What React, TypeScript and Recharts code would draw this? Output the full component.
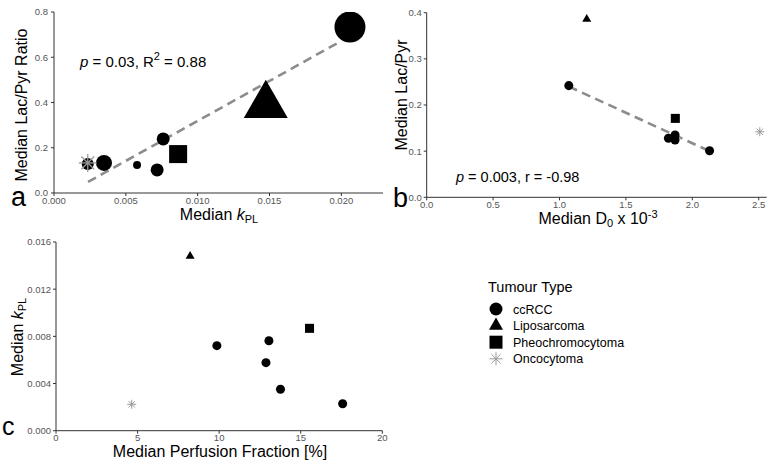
import React from 'react';
import { ScatterChart, Scatter, XAxis, YAxis, ZAxis, ReferenceLine } from 'recharts';

const FONT = '"Liberation Sans", Arial, Helvetica, sans-serif';

// panel a: median kPL vs median Lac/Pyr ratio (size is mapped to a third variable)
const aCcrccKpl = [0.0206, 0.0076, 0.00348, 0.00578, 0.00718, 0.00235];
const aCcrccRatio = [0.734, 0.239, 0.133, 0.124, 0.102, 0.128];
const aCcrccSize = [961, 169, 256, 64, 169, 144];
const aLipoKpl = [0.01474];
const aLipoRatio = [0.388];
const aLipoSize = [1936];
const aPheoKpl = [0.00864];
const aPheoRatio = [0.172];
const aPheoSize = [324];
const aOncoKpl = [0.00235];
const aOncoRatio = [0.133];
const aOncoSize = [324];
const aFitKpl = [0.00237, 0.0198];
const aFitRatio = [0.049, 0.665];
const aXTicks = [0, 0.005, 0.01, 0.015, 0.02];
const aYTicks = [0, 0.2, 0.4, 0.6, 0.8];

// panel b: median D0 vs median Lac/Pyr
const bCcrccD0 = [1.07, 1.82, 1.87, 1.87, 2.13];
const bCcrccRatio = [0.242, 0.128, 0.135, 0.124, 0.101];
const bLipoD0 = [1.205];
const bLipoRatio = [0.386];
const bPheoD0 = [1.872];
const bPheoRatio = [0.171];
const bOncoD0 = [2.508];
const bOncoRatio = [0.142];
const bFitD0 = [1.07, 2.13];
const bFitRatio = [0.24, 0.1];
const bXTicks = [0, 0.5, 1, 1.5, 2, 2.5];
const bYTicks = [0, 0.1, 0.2, 0.3, 0.4];

// panel c: median perfusion fraction vs median kPL
const cCcrccPf = [9.86, 13.05, 12.87, 13.76, 17.57];
const cCcrccKpl = [0.00721, 0.00763, 0.00577, 0.00351, 0.00229];
const cLipoPf = [8.22];
const cLipoKpl = [0.0148];
const cPheoPf = [15.54];
const cPheoKpl = [0.00868];
const cOncoPf = [4.64];
const cOncoKpl = [0.00224];
const cXTicks = [0, 5, 10, 15, 20];
const cYTicks = [0, 0.004, 0.008, 0.012, 0.016];

const legendItems = ['ccRCC', 'Liposarcoma', 'Pheochromocytoma', 'Oncocytoma'];
const legendKinds = ['circle', 'triangle', 'square', 'star'];

const zip = (xs: number[], ys: number[], zs?: number[]) =>
  xs.map((x, i) => ({ x, y: ys[i], z: zs ? zs[i] : 1 }));

const area = (w: number) => (Math.PI * w * w) / 4;

function Marker(props: any) {
  const { cx, cy, width, kind } = props;
  if (cx == null || cy == null) return null;
  const w = width ?? 9;
  if (kind === 'circle') return <circle cx={cx} cy={cy} r={w / 2} fill="#000" />;
  if (kind === 'square')
    return <rect x={cx - w / 2} y={cy - w / 2} width={w} height={w} fill="#000" />;
  if (kind === 'triangle') {
    const r = w / Math.sqrt(3);
    return (
      <polygon
        points={`${cx},${cy - r} ${cx + w / 2},${cy + r / 2} ${cx - w / 2},${cy + r / 2}`}
        fill="#000"
      />
    );
  }
  const r = w / 2;
  const d = r * 0.7071;
  const sw = w > 14 ? 1.3 : 1;
  return (
    <g stroke="#999" strokeWidth={sw}>
      <line x1={cx - r} y1={cy} x2={cx + r} y2={cy} />
      <line x1={cx} y1={cy - r} x2={cx} y2={cy + r} />
      <line x1={cx - d} y1={cy - d} x2={cx + d} y2={cy + d} />
      <line x1={cx - d} y1={cy + d} x2={cx + d} y2={cy - d} />
    </g>
  );
}

const shapeOf = (kind: string) => (p: any) => <Marker {...p} kind={kind} />;

const tickStyle = { fontSize: 9.5, fill: '#555', fontFamily: FONT };
const axisCommon = {
  tick: tickStyle,
  tickSize: 3,
  tickMargin: 2,
  axisLine: { stroke: '#333', strokeWidth: 1 },
  tickLine: { stroke: '#333', strokeWidth: 1 },
  interval: 0 as const,
  allowDataOverflow: true,
};
const fitStyle = { stroke: '#8c8c8c', strokeWidth: 2.6, strokeDasharray: '9 5.5' };

function PanelA() {
  return (
    <ScatterChart width={390} height={230} margin={{ top: 12, right: 7, bottom: 0, left: 0 }}>
      <XAxis
        {...axisCommon}
        type="number"
        dataKey="x"
        domain={[0, 0.0229]}
        ticks={aXTicks}
        tickFormatter={(v: number) => v.toFixed(3)}
        height={37}
        tickMargin={1}
      />
      <YAxis
        {...axisCommon}
        type="number"
        dataKey="y"
        domain={[0, 0.8]}
        ticks={aYTicks}
        tickFormatter={(v: number) => v.toFixed(1)}
        width={54}
        tickMargin={3}
      />
      <ZAxis type="number" dataKey="z" domain={[0, 2000]} range={[0, area(Math.sqrt(2000))]} />
      <ReferenceLine
        segment={[
          { x: aFitKpl[0], y: aFitRatio[0] },
          { x: aFitKpl[1], y: aFitRatio[1] },
        ]}
        ifOverflow="visible"
        {...fitStyle}
      />
      <Scatter data={zip(aCcrccKpl, aCcrccRatio, aCcrccSize)} shape={shapeOf('circle')} isAnimationActive={false} />
      <Scatter data={zip(aLipoKpl, aLipoRatio, aLipoSize)} shape={shapeOf('triangle')} isAnimationActive={false} />
      <Scatter data={zip(aPheoKpl, aPheoRatio, aPheoSize)} shape={shapeOf('square')} isAnimationActive={false} />
      <Scatter data={zip(aOncoKpl, aOncoRatio, aOncoSize)} shape={shapeOf('star')} isAnimationActive={false} />
    </ScatterChart>
  );
}

function PanelB() {
  return (
    <ScatterChart width={390} height={230} margin={{ top: 12.7, right: 3.3, bottom: 0, left: 0 }}>
      <XAxis
        {...axisCommon}
        type="number"
        dataKey="x"
        domain={[0, 2.56]}
        ticks={bXTicks}
        tickFormatter={(v: number) => v.toFixed(1)}
        height={32.7}
        tickMargin={1}
      />
      <YAxis
        {...axisCommon}
        type="number"
        dataKey="y"
        domain={[0, 0.4]}
        ticks={bYTicks}
        tickFormatter={(v: number) => v.toFixed(1)}
        width={46.7}
      />
      <ZAxis zAxisId="c" range={[area(9.5), area(9.5)]} />
      <ZAxis zAxisId="t" range={[area(10.5), area(10.5)]} />
      <ZAxis zAxisId="s" range={[area(9), area(9)]} />
      <ZAxis zAxisId="o" range={[area(11), area(11)]} />
      <ReferenceLine
        segment={[
          { x: bFitD0[0], y: bFitRatio[0] },
          { x: bFitD0[1], y: bFitRatio[1] },
        ]}
        ifOverflow="visible"
        {...fitStyle}
      />
      <Scatter zAxisId="c" data={zip(bCcrccD0, bCcrccRatio)} shape={shapeOf('circle')} isAnimationActive={false} />
      <Scatter zAxisId="t" data={zip(bLipoD0, bLipoRatio)} shape={shapeOf('triangle')} isAnimationActive={false} />
      <Scatter zAxisId="s" data={zip(bPheoD0, bPheoRatio)} shape={shapeOf('square')} isAnimationActive={false} />
      <Scatter zAxisId="o" data={zip(bOncoD0, bOncoRatio)} shape={shapeOf('star')} isAnimationActive={false} />
    </ScatterChart>
  );
}

function PanelC() {
  return (
    <ScatterChart width={400} height={243} margin={{ top: 17, right: 17.7, bottom: 0, left: 0 }}>
      <XAxis
        {...axisCommon}
        type="number"
        dataKey="x"
        domain={[0, 20]}
        ticks={cXTicks}
        height={37.3}
        tickMargin={1}
      />
      <YAxis
        {...axisCommon}
        type="number"
        dataKey="y"
        domain={[0, 0.016]}
        ticks={cYTicks}
        tickFormatter={(v: number) => v.toFixed(3)}
        width={56}
      />
      <ZAxis zAxisId="c" range={[area(9.5), area(9.5)]} />
      <ZAxis zAxisId="t" range={[area(10.5), area(10.5)]} />
      <ZAxis zAxisId="s" range={[area(8.5), area(8.5)]} />
      <ZAxis zAxisId="o" range={[area(11), area(11)]} />
      <Scatter zAxisId="c" data={zip(cCcrccPf, cCcrccKpl)} shape={shapeOf('circle')} isAnimationActive={false} />
      <Scatter zAxisId="t" data={zip(cLipoPf, cLipoKpl)} shape={shapeOf('triangle')} isAnimationActive={false} />
      <Scatter zAxisId="s" data={zip(cPheoPf, cPheoKpl)} shape={shapeOf('square')} isAnimationActive={false} />
      <Scatter zAxisId="o" data={zip(cOncoPf, cOncoKpl)} shape={shapeOf('star')} isAnimationActive={false} />
    </ScatterChart>
  );
}

function Labels() {
  const legendW = [13, 14, 13, 13];
  return (
    <svg
      width={770}
      height={468}
      style={{ position: 'absolute', left: 0, top: 0, pointerEvents: 'none' }}
      fontFamily={FONT}
    >
      {/* panel letters */}
      <text x={11} y={206} fontSize={27}>a</text>
      <text x={393} y={207} fontSize={27}>b</text>
      <text x={2} y={435} fontSize={25}>c</text>

      {/* panel a */}
      <text transform="translate(27,105) rotate(-90)" textAnchor="middle" fontSize={16}>
        Median Lac/Pyr Ratio
      </text>
      <text x={219} y={220} textAnchor="middle" fontSize={16}>
        Median <tspan fontStyle="italic">k</tspan>
        <tspan fontSize={11} dy={3}>PL</tspan>
      </text>
      <text x={80} y={67} fontSize={15}>
        <tspan fontStyle="italic">p</tspan> = 0.03, R<tspan fontSize={11} dy={-7}>2</tspan>
        <tspan dy={7}> = 0.88</tspan>
      </text>

      {/* panel b */}
      <text transform="translate(407,95) rotate(-90)" textAnchor="middle" fontSize={16}>
        Median Lac/Pyr
      </text>
      <text x={598} y={224} textAnchor="middle" fontSize={16}>
        Median D<tspan fontSize={11} dy={3}>0</tspan>
        <tspan dy={-3}> x 10</tspan>
        <tspan fontSize={11} dy={-6}>-3</tspan>
      </text>
      <text x={456} y={182} fontSize={14.5}>
        <tspan fontStyle="italic">p</tspan> = 0.003, r = -0.98
      </text>

      {/* panel c */}
      <text transform="translate(23,337) rotate(-90)" textAnchor="middle" fontSize={16}>
        Median <tspan fontStyle="italic">k</tspan>
        <tspan fontSize={11} dy={3}>PL</tspan>
      </text>
      <text x={220} y={457} textAnchor="middle" fontSize={16}>
        Median Perfusion Fraction [%]
      </text>

      {/* legend */}
      <text x={488} y={292} fontSize={14.5}>Tumour Type</text>
      {legendItems.map((name, i) => {
        const cy = 309 + i * 16.6;
        return (
          <g key={name}>
            <Marker cx={496} cy={cy} width={legendW[i]} kind={legendKinds[i]} />
            <text x={513} y={cy} dy="0.36em" fontSize={12.5}>
              {name}
            </text>
          </g>
        );
      })}
    </svg>
  );
}

export default function App() {
  return (
    <div style={{ position: 'absolute', left: 0, top: 0, width: 770, height: 468, background: '#fff' }}>
      <div style={{ position: 'absolute', left: 0, top: 0 }}>
        <PanelA />
      </div>
      <div style={{ position: 'absolute', left: 380, top: 0 }}>
        <PanelB />
      </div>
      <div style={{ position: 'absolute', left: 0, top: 225 }}>
        <PanelC />
      </div>
      <Labels />
    </div>
  );
}
